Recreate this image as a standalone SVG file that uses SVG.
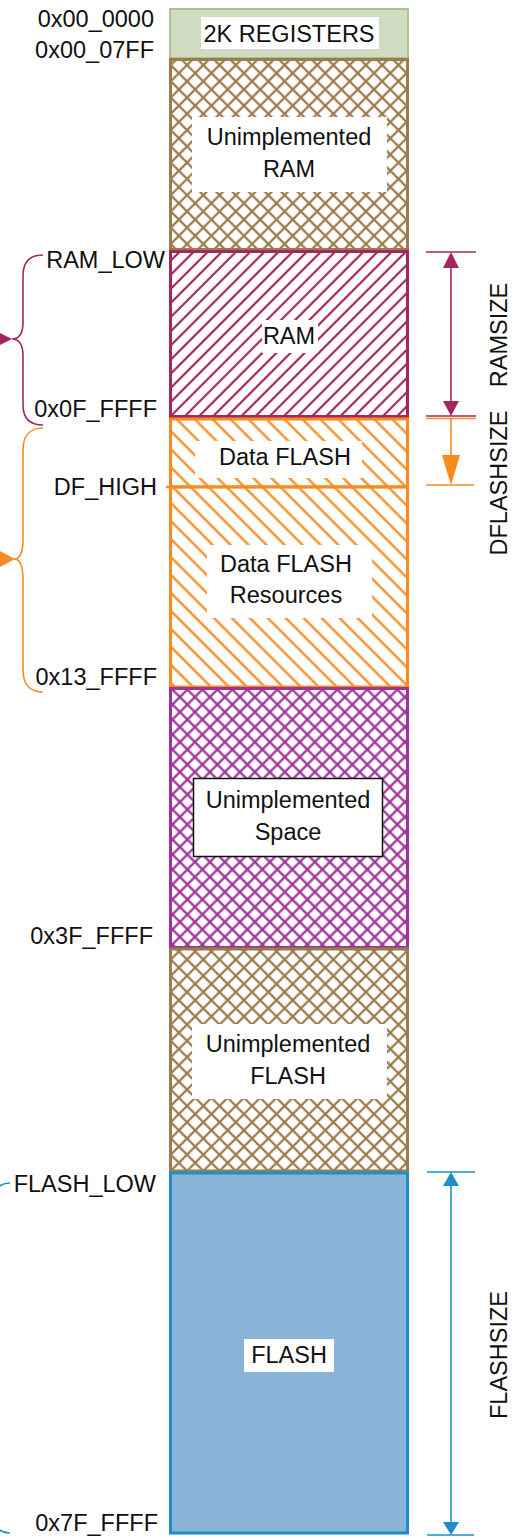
<svg xmlns="http://www.w3.org/2000/svg" width="514" height="1537" viewBox="0 0 514 1537">
<style>
text{font-family:"Liberation Sans",Arial,sans-serif;font-size:23.5px;fill:#111}
.c{text-anchor:middle}
.r{text-anchor:end}
.lbl{fill:#fff}
.dim{fill:none;stroke-width:1.6}
</style>
<defs>
<pattern id="pBrown" patternUnits="userSpaceOnUse" width="11.5" height="11.5" patternTransform="rotate(45)">
<rect width="11.5" height="11.5" fill="#fff"/>
<line x1="5.75" y1="0" x2="5.75" y2="11.5" stroke="#9c7c4c" stroke-width="2.3"/>
<line x1="0" y1="5.75" x2="11.5" y2="5.75" stroke="#9c7c4c" stroke-width="2.3"/>
</pattern>
<pattern id="pPurple" patternUnits="userSpaceOnUse" width="10.6" height="10.6" patternTransform="rotate(45)">
<rect width="10.6" height="10.6" fill="#fff"/>
<line x1="5.3" y1="0" x2="5.3" y2="10.6" stroke="#a03399" stroke-width="2.3"/>
<line x1="0" y1="5.3" x2="10.6" y2="5.3" stroke="#a03399" stroke-width="2.3"/>
</pattern>
<pattern id="pMaroon" patternUnits="userSpaceOnUse" width="10" height="10" patternTransform="rotate(45)">
<rect width="10" height="10" fill="#fff"/>
<line x1="5" y1="0" x2="5" y2="10" stroke="#a3275b" stroke-width="2.2"/>
</pattern>
<pattern id="pOrange" patternUnits="userSpaceOnUse" width="12.7" height="12.7" patternTransform="rotate(-45)">
<rect width="12.7" height="12.7" fill="#fff"/>
<line x1="6.35" y1="0" x2="6.35" y2="12.7" stroke="#f68b1f" stroke-width="2.3"/>
</pattern>
</defs>
<rect width="514" height="1537" fill="#fff"/>

<g id="registers">
<rect x="170" y="9" width="238" height="49" fill="#cfdcc2" stroke="#a9c28e" stroke-width="2"/>
<rect class="lbl" x="201" y="17" width="178" height="32"/>
<text class="c" x="289" y="42">2K REGISTERS</text>
</g>
<g id="unimpl-ram">
<rect x="170.5" y="59.5" width="237" height="190" fill="url(#pBrown)" stroke="#9c7c4c" stroke-width="3"/>
<rect class="lbl" x="192" y="117" width="195" height="75"/>
<text class="c" x="289" y="145">Unimplemented</text>
<text class="c" x="289" y="177">RAM</text>
</g>
<g id="ram">
<rect x="170.5" y="251.5" width="237" height="165" fill="url(#pMaroon)" stroke="#a3275b" stroke-width="3"/>
<rect class="lbl" x="262" y="320" width="56" height="33"/>
<text class="c" x="289" y="344">RAM</text>
</g>
<g id="data-flash">
<rect x="170.5" y="419" width="237" height="68" fill="url(#pOrange)" stroke="#f68b1f" stroke-width="3"/>
<rect class="lbl" x="195" y="441" width="167" height="37"/>
<text class="c" x="285" y="465">Data FLASH</text>
</g>
<g id="data-flash-resources">
<rect x="170.5" y="487" width="237" height="200" fill="url(#pOrange)" stroke="#f68b1f" stroke-width="3"/>
<rect class="lbl" x="207" y="545" width="165" height="73"/>
<text class="c" x="286" y="572">Data FLASH</text>
<text class="c" x="286" y="603">Resources</text>
</g>
<g id="unimpl-space">
<rect x="170.5" y="688.5" width="237" height="259" fill="url(#pPurple)" stroke="#a03399" stroke-width="3"/>
<rect x="193.5" y="778.5" width="189" height="78" fill="#fff" stroke="#111" stroke-width="1.5"/>
<text class="c" x="288" y="808">Unimplemented</text>
<text class="c" x="288" y="840">Space</text>
</g>
<g id="unimpl-flash">
<rect x="170.5" y="949" width="237" height="222" fill="url(#pBrown)" stroke="#9c7c4c" stroke-width="3"/>
<rect class="lbl" x="192" y="1024" width="195" height="75"/>
<text class="c" x="288" y="1052">Unimplemented</text>
<text class="c" x="288" y="1084">FLASH</text>
</g>
<g id="flash">
<rect x="170.5" y="1173" width="237" height="360" fill="#8ab4d7" stroke="#1b8fc6" stroke-width="3"/>
<rect class="lbl" x="244" y="1339" width="90" height="33"/>
<text class="c" x="289" y="1363">FLASH</text>
</g>

<g id="addresses">
<text class="r" x="154" y="27">0x00_0000</text>
<text class="r" x="154" y="58">0x00_07FF</text>
<text class="r" x="165" y="268">RAM_LOW</text>
<text class="r" x="157" y="417">0x0F_FFFF</text>
<text class="r" x="157" y="495">DF_HIGH</text>
<text class="r" x="157" y="685">0x13_FFFF</text>
<text class="r" x="153" y="944">0x3F_FFFF</text>
<text class="r" x="156" y="1192">FLASH_LOW</text>
<text class="r" x="158" y="1531">0x7F_FFFF</text>
</g>

<g id="connectors">
<line x1="166" y1="487" x2="408" y2="487" stroke="#f68b1f" stroke-width="2.5"/>
<path class="dim" stroke="#a3275b" d="M43 255 C30 255 23 262 23 276 L23 322 C23 333 19 339 12 339 C19 339 23 345 23 356 L23 405 C23 418 30 425 43 425"/>
<polygon points="0,333 12,339 0,345" fill="#a3275b"/>
<path class="dim" stroke="#f68b1f" d="M43 428 C30 428 23 436 23 450 L23 539 C23 552 20 559 14 559 C20 559 23 566 23 580 L23 670 C23 684 30 692 43 692"/>
<polygon points="0,551 15,559 0,567" fill="#f68b1f"/>
<path class="dim" stroke="#1b8fc6" d="M10 1183 C0 1183 -8 1190 -8 1202 L-8 1514 C-8 1526 0 1533 10 1533"/>

<g stroke="#a3275b" class="dim">
<line x1="426" y1="252" x2="476" y2="252"/>
<line x1="426" y1="416" x2="476" y2="416"/>
<line x1="451" y1="266" x2="451" y2="402"/>
</g>
<polygon points="451,252 443,268 459,268" fill="#a3275b"/>
<polygon points="451,416 443,401 459,401" fill="#a3275b"/>

<g stroke="#f68b1f" class="dim">
<line x1="426" y1="418.5" x2="476" y2="418.5"/>
<line x1="426" y1="485" x2="474" y2="485"/>
<line x1="451" y1="418" x2="451" y2="456"/>
</g>
<polygon points="442,455 460,455 451,485" fill="#f68b1f"/>

<g stroke="#1b8fc6" class="dim">
<line x1="427" y1="1172" x2="475" y2="1172"/>
<line x1="427" y1="1535" x2="474" y2="1535"/>
<line x1="451" y1="1185" x2="451" y2="1523"/>
</g>
<polygon points="451,1172 443,1186 459,1186" fill="#1b8fc6"/>
<polygon points="443,1522 459,1522 451,1535" fill="#1b8fc6"/>
</g>

<g id="size-labels">
<text class="c" transform="translate(507,335) rotate(-90)">RAMSIZE</text>
<text class="c" transform="translate(507,483) rotate(-90)">DFLASHSIZE</text>
<text class="c" transform="translate(507,1355) rotate(-90)">FLASHSIZE</text>
</g>
</svg>
